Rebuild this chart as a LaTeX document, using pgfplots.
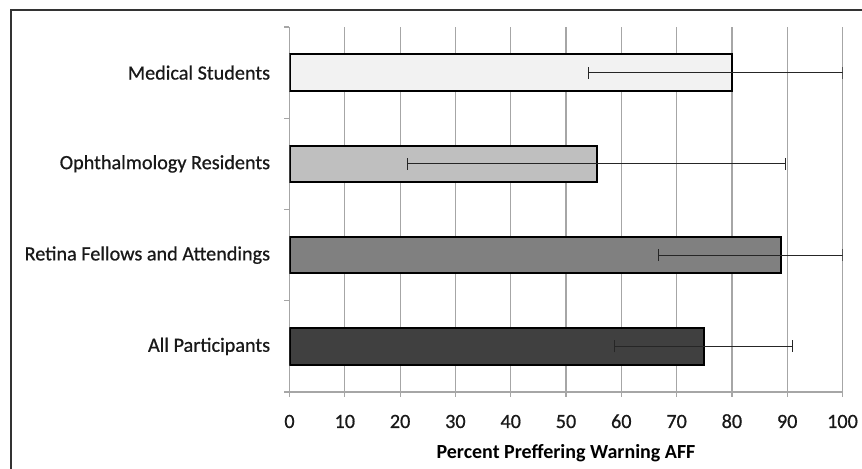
\documentclass[border=0pt]{standalone}
\usepackage{fontspec}
\setmainfont{Carlito}
\newfontfamily\labelfont{Carlito}[FakeBold=0.7]
\usepackage{pgfplots}
\usepackage{pgfplotstable}
\pgfplotsset{compat=1.18}

% y position, percent, upper and lower error
\pgfplotstableread{
y x ep em
3 80.0 20.0 26.0
}\medical
\pgfplotstableread{
y x ep em
2 55.6 34.1 34.3
}\residents
\pgfplotstableread{
y x ep em
1 88.9 11.1 22.2
}\retina
\pgfplotstableread{
y x ep em
0 75.0 16.0 16.2
}\allpart

\definecolor{barA}{HTML}{F2F2F2}
\definecolor{barB}{HTML}{BFBFBF}
\definecolor{barC}{HTML}{808080}
\definecolor{barD}{HTML}{404040}
\definecolor{gridc}{HTML}{A6A6A6}

\begin{document}
\begin{tikzpicture}
\useasboundingbox (0,0) rectangle (431pt,234.5pt);
\draw[black!80, line width=0.6pt] (5.5pt,-10pt) rectangle (440pt,229.5pt);
\begin{axis}[
  at={(144.75pt,38.5pt)}, anchor=south west,
  scale only axis, width=276.5pt, height=182.5pt,
  xmin=0, xmax=100, ymin=-0.5, ymax=3.5,
  xbar, bar shift=0pt, bar width=0.4,
  axis x line*=bottom, axis y line*=left,
  axis line style={gridc, line width=0.6pt},
  xtick={0,10,...,100},
  xmajorgrids, grid style={gridc, line width=0.6pt},
  ytick={-0.5,0.5,1.5,2.5,3.5}, yticklabels={},
  extra y ticks={0,1,2,3},
  extra y tick labels={All Participants, Retina Fellows and Attendings, Ophthalmology Residents, Medical Students},
  extra y tick style={major tick length=0pt, grid=none,
    yticklabel style={inner sep=0pt, xshift=-9.5pt}},
  tick align=outside, major tick length=2.5pt,
  tick style={gridc, line width=0.6pt},
  /pgf/number format/assume math mode=true,
  tick label style={font=\labelfont\fontsize{10.1}{12}\selectfont, text=black!90},
  xticklabel style={inner sep=0pt, anchor=base, yshift=-15.5pt},
  xlabel={\textbf{Percent Preffering Warning AFF}},
  xlabel style={font=\fontsize{10}{12}\selectfont, inner sep=0pt, yshift=-8pt},
  every axis plot/.append style={draw=black, line width=1.1pt},
  error bars/x dir=both, error bars/x explicit,
  error bars/error bar style={black!85, line width=0.6pt},
  error bars/error mark options={black!85, line width=0.6pt, mark size=3pt, rotate=90},
]
\addplot[fill=barA] table[x=x, y=y, x error plus=ep, x error minus=em] {\medical};
\addplot[fill=barB] table[x=x, y=y, x error plus=ep, x error minus=em] {\residents};
\addplot[fill=barC] table[x=x, y=y, x error plus=ep, x error minus=em] {\retina};
\addplot[fill=barD] table[x=x, y=y, x error plus=ep, x error minus=em] {\allpart};
\end{axis}
\end{tikzpicture}
\end{document}
